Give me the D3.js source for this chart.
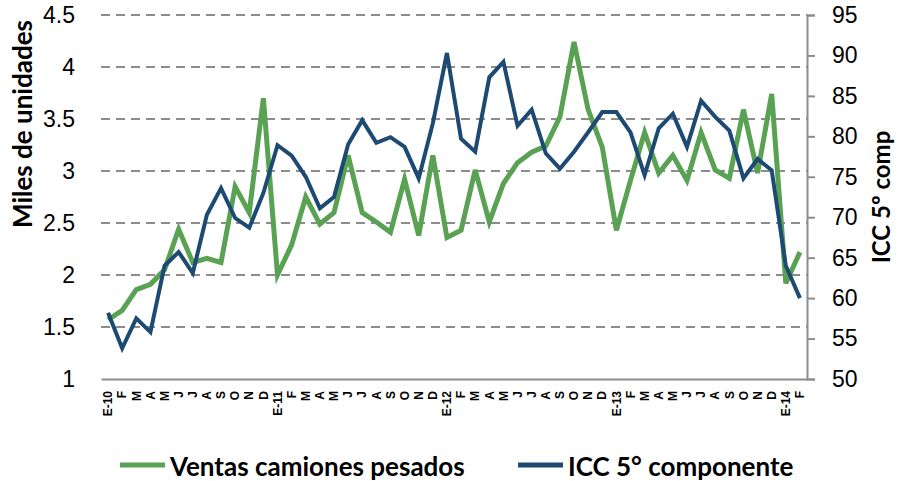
<!DOCTYPE html>
<html>
<head>
<meta charset="utf-8">
<script src="https://cdn.jsdelivr.net/npm/d3@7"></script>
<style>
  body { margin: 0; background: #fff; }
  svg { font-family: Lato, "Open Sans", sans-serif; }
</style>
</head>
<body>
<div id="chart"></div>
<script>
// month labels, E = enero
var months = ['E-10','F','M','A','M','J','J','A','S','O','N','D',
  'E-11','F','M','A','M','J','J','A','S','O','N','D',
  'E-12','F','M','A','M','J','J','A','S','O','N','D',
  'E-13','F','M','A','M','J','J','A','S','O','N','D',
  'E-14','F'];

// Ventas camiones pesados (miles de unidades, eje izq)
var ventas = [1.57,1.66,1.86,1.91,2.05,2.44,2.12,2.16,2.12,2.85,2.6,3.7,
  2.0,2.29,2.75,2.49,2.6,3.15,2.6,2.51,2.41,2.92,2.38,3.15,
  2.36,2.43,3.01,2.51,2.88,3.08,3.18,3.24,3.52,4.24,3.59,3.23,
  2.43,2.91,3.37,2.98,3.15,2.91,3.37,3.01,2.93,3.59,2.98,3.74,
  1.92,2.22];

// ICC 5° componente (eje der)
var icc = [58.2,53.8,57.5,55.8,64.0,65.7,63.1,70.3,73.6,69.9,68.7,73.0,
  78.9,77.6,75.0,71.1,72.5,79.0,82.0,79.2,79.9,78.7,74.8,81.6,
  90.3,79.7,78.1,87.3,89.2,81.3,83.3,77.9,76.0,78.1,80.5,83.0,
  83.0,80.5,75.2,81.0,82.8,78.7,84.4,82.4,80.7,74.8,77.2,75.8,
  64.0,60.0];

var leftTicks = [1,1.5,2,2.5,3,3.5,4,4.5];
var rightTicks = [50,55,60,65,70,75,80,85,90,95];

var width = 898, height = 481;
var margin = {top: 15, right: 91, bottom: 102, left: 101};
var green = '#5aa253', blue = '#1d4a72';

var svg = d3.select('#chart').append('svg')
  .attr('width', width)
  .attr('height', height);

var x = d3.scaleBand()
  .domain(d3.range(months.length))
  .range([margin.left, width - margin.right]);

var yL = d3.scaleLinear().domain([1, 4.5]).range([height - margin.bottom, margin.top]);
var yR = d3.scaleLinear().domain([50, 95]).range([height - margin.bottom, margin.top]);

// dashed gridlines
svg.append('g')
  .selectAll('line')
  .data(leftTicks.slice(1))
  .join('line')
  .attr('x1', margin.left)
  .attr('x2', width - margin.right)
  .attr('y1', function(d) { return yL(d); })
  .attr('y2', function(d) { return yL(d); })
  .attr('stroke', '#8c8c8c')
  .attr('stroke-width', 2)
  .attr('stroke-dasharray', '9,6');

// left axis (labels only)
var gl = svg.append('g')
  .attr('transform', 'translate(' + margin.left + ',0)')
  .call(d3.axisLeft(yL).tickValues(leftTicks).tickSize(0).tickPadding(26).tickFormat(d3.format('')));
gl.select('.domain').remove();
gl.selectAll('text').attr('font-size', 23).attr('fill', '#000');

// right axis
var gr = svg.append('g')
  .attr('transform', 'translate(' + (width - margin.right) + ',0)')
  .call(d3.axisRight(yR).tickValues(rightTicks).tickSize(8).tickPadding(17));
gr.select('.domain').attr('stroke', '#8c8c8c').attr('stroke-width', 2);
gr.selectAll('.tick line').attr('stroke', '#8c8c8c').attr('stroke-width', 2);
gr.selectAll('text').attr('font-size', 23).attr('fill', '#000');

// bottom axis
var gx = svg.append('g')
  .attr('transform', 'translate(0,' + (height - margin.bottom) + ')')
  .call(d3.axisBottom(x).tickSize(0).tickFormat(function(i) { return months[i]; }));
gx.select('.domain').attr('stroke', '#8c8c8c').attr('stroke-width', 2);
gx.selectAll('text')
  .attr('font-size', 12)
  .attr('font-weight', 'bold')
  .attr('fill', '#000')
  .attr('text-anchor', 'end')
  .attr('dy', '0.35em')
  .attr('transform', 'translate(0,12) rotate(-90)')
  .attr('x', 0)
  .attr('y', 0);

// lines
var lineL = d3.line()
  .x(function(d, i) { return x(i) + x.bandwidth() / 2; })
  .y(function(d) { return yL(d); });
var lineR = d3.line()
  .x(function(d, i) { return x(i) + x.bandwidth() / 2; })
  .y(function(d) { return yR(d); });

svg.append('path')
  .datum(ventas)
  .attr('d', lineL)
  .attr('fill', 'none')
  .attr('stroke', green)
  .attr('stroke-width', 5)
  .attr('stroke-linejoin', 'miter');

svg.append('path')
  .datum(icc)
  .attr('d', lineR)
  .attr('fill', 'none')
  .attr('stroke', blue)
  .attr('stroke-width', 4)
  .attr('stroke-linejoin', 'miter');

// axis titles
svg.append('text')
  .attr('transform', 'translate(32,124) rotate(-90)')
  .attr('text-anchor', 'middle')
  .attr('font-size', 26)
  .attr('font-weight', 'bold')
  .text('Miles de unidades');

svg.append('text')
  .attr('transform', 'translate(890,197) rotate(-90)')
  .attr('text-anchor', 'middle')
  .attr('font-size', 24)
  .attr('font-weight', 'bold')
  .text('ICC 5º comp');

// legend
var legend = [
  {name: 'Ventas camiones pesados', color: green, x: 120},
  {name: 'ICC 5° componente', color: blue, x: 518}
];
var lg = svg.append('g').selectAll('g').data(legend).join('g')
  .attr('transform', function(d) { return 'translate(' + d.x + ',0)'; });
lg.append('line')
  .attr('x1', 0).attr('x2', 45)
  .attr('y1', 465).attr('y2', 465)
  .attr('stroke', function(d) { return d.color; })
  .attr('stroke-width', 5);
lg.append('text')
  .attr('x', 50)
  .attr('y', 476)
  .attr('font-size', 26)
  .attr('font-weight', 'bold')
  .text(function(d) { return d.name; });
</script>
</body>
</html>
